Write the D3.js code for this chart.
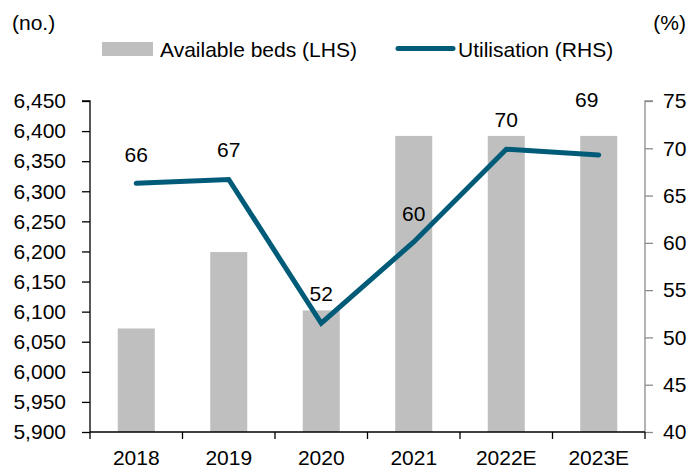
<!DOCTYPE html>
<html>
<head>
<meta charset="utf-8">
<script src="https://cdn.jsdelivr.net/npm/d3@7"></script>
<style>
  body { margin: 0; background: #fff; }
  text { font-family: Arial, "Liberation Sans", sans-serif; fill: #000; }
</style>
</head>
<body>
<script>
var years = ["2018", "2019", "2020", "2021", "2022E", "2023E"];
var beds = [6072, 6199, 6102, 6392, 6392, 6392];
var utilisation = [66.3, 66.7, 51.5, 60.1, 69.9, 69.3];
var utilLabels = ["66", "67", "52", "60", "70", "69"];
var bedTicks = [5900, 5950, 6000, 6050, 6100, 6150, 6200, 6250, 6300, 6350, 6400, 6450];
var utilTicks = [40, 45, 50, 55, 60, 65, 70, 75];

// label nudges (px), last one sits higher in the original
var labelDx = [0, 0, 0, 0, 0, -12];
var labelDy = [-21, -22, -22, -21, -22, -48];

var width = 692, height = 469;
var plotL = 90, plotR = 645, plotT = 101, plotB = 432;
var teal = "#005b78", grey = "#bfbfbf";
var fs = "21px";

var svg = d3.select("body").append("svg")
  .attr("width", width)
  .attr("height", height);

var x = d3.scaleBand()
  .domain(years)
  .range([plotL, plotR])
  .paddingInner(0.6)
  .paddingOuter(0.3);

var yL = d3.scaleLinear().domain([5900, 6450]).range([plotB, plotT]);
var yR = d3.scaleLinear().domain([40, 75]).range([plotB, plotT]);

// bars
svg.append("g").selectAll("rect")
  .data(years)
  .enter().append("rect")
    .attr("x", d => x(d))
    .attr("y", (d, i) => yL(beds[i]))
    .attr("width", x.bandwidth())
    .attr("height", (d, i) => plotB - yL(beds[i]))
    .attr("fill", grey);

// left axis
var axL = svg.append("g")
  .attr("transform", "translate(" + plotL + ",0)")
  .call(d3.axisLeft(yL).tickValues(bedTicks).tickSize(8).tickPadding(16).tickFormat(d3.format(",")));
axL.select(".domain").attr("stroke", "#000").attr("stroke-width", 1.3).attr("d", "M-8," + plotT + "H0V" + plotB);
axL.selectAll(".tick line").attr("stroke", "#000").attr("stroke-width", 1.3);
axL.selectAll("text").style("font-size", fs).attr("fill", "#000");

// right axis
var axR = svg.append("g")
  .attr("transform", "translate(" + plotR + ",0)")
  .call(d3.axisRight(yR).tickValues(utilTicks).tickSize(8).tickPadding(10));
axR.select(".domain").attr("stroke", "#8c8c8c").attr("stroke-width", 1.3).attr("d", "M8," + plotT + "H0V" + plotB);
axR.selectAll(".tick line").attr("stroke", "#8c8c8c").attr("stroke-width", 1.3);
axR.selectAll("text").style("font-size", fs).attr("fill", "#000");

// x axis
var axX = svg.append("g")
  .attr("transform", "translate(0," + plotB + ")")
  .call(d3.axisBottom(x).tickSize(0).tickPadding(18));
axX.select(".domain").attr("stroke", "#000").attr("stroke-width", 1.3).attr("d", "M" + plotL + ",0H" + plotR);
axX.selectAll("text").style("font-size", fs).attr("fill", "#000");
var half = x.step() * x.paddingInner() / 2;
var bounds = years.map(d => x(d) - half).concat([plotR]);
axX.selectAll(".bound")
  .data(bounds)
  .enter().append("line")
    .attr("x1", d => d).attr("x2", d => d)
    .attr("y1", 0).attr("y2", 7)
    .attr("stroke", "#000").attr("stroke-width", 1.3);

// utilisation line
var line = d3.line()
  .x((d, i) => x(years[i]) + x.bandwidth() / 2)
  .y(d => yR(d));

svg.append("path")
  .attr("d", line(utilisation))
  .attr("fill", "none")
  .attr("stroke", teal)
  .attr("stroke-width", 5)
  .attr("stroke-linecap", "round")
  .attr("stroke-linejoin", "miter");

svg.append("g").selectAll("text")
  .data(utilLabels)
  .enter().append("text")
    .attr("x", (d, i) => x(years[i]) + x.bandwidth() / 2 + labelDx[i])
    .attr("y", (d, i) => yR(utilisation[i]) + labelDy[i])
    .attr("text-anchor", "middle")
    .style("font-size", fs)
    .text(d => d);

// unit labels
svg.append("text").attr("x", 12).attr("y", 30).style("font-size", fs).text("(no.)");
svg.append("text").attr("x", 686).attr("y", 30).attr("text-anchor", "end").style("font-size", fs).text("(%)");

// legend
svg.append("rect").attr("x", 102).attr("y", 42).attr("width", 51).attr("height", 14).attr("fill", grey);
svg.append("text").attr("x", 160).attr("y", 57).style("font-size", fs).text("Available beds (LHS)");
svg.append("line").attr("x1", 398).attr("x2", 453).attr("y1", 48.5).attr("y2", 48.5)
  .attr("stroke", teal).attr("stroke-width", 5).attr("stroke-linecap", "round");
svg.append("text").attr("x", 458).attr("y", 57).style("font-size", fs).text("Utilisation (RHS)");
</script>
</body>
</html>
